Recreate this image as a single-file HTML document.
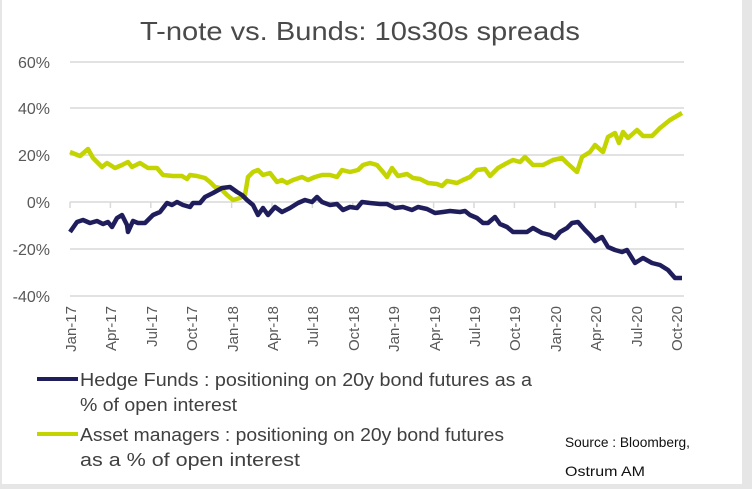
<!DOCTYPE html>
<html><head><meta charset="utf-8"><style>
html,body{margin:0;padding:0;background:#fff;}
svg{display:block;}
</style></head><body>
<svg width="752" height="489" viewBox="0 0 752 489" xmlns="http://www.w3.org/2000/svg" font-family="'Liberation Sans', sans-serif">
<rect width="752" height="489" fill="#fff"/>
<rect x="742" y="0" width="10" height="489" fill="#e6e6e6"/>
<rect x="0" y="484" width="752" height="5" fill="#e6e6e6"/>
<rect x="0" y="0" width="2" height="489" fill="#e6e6e6"/>
<text x="360" y="40" text-anchor="middle" font-size="26" fill="#4a4a4a" textLength="440" lengthAdjust="spacingAndGlyphs">T-note vs. Bunds: 10s30s spreads</text>
<g stroke="#d9d9d9" stroke-width="1.5">
<line x1="70" y1="62" x2="684" y2="62"/>
<line x1="70" y1="108" x2="684" y2="108"/>
<line x1="70" y1="155" x2="684" y2="155"/>
<line x1="70" y1="249" x2="684" y2="249"/>
<line x1="70" y1="296" x2="684" y2="296"/>
<line x1="70" y1="202" x2="684" y2="202"/>
</g>
<g stroke="#d9d9d9" stroke-width="1.5">
<line x1="70" y1="202" x2="70" y2="208"/><line x1="110.4" y1="202" x2="110.4" y2="208"/><line x1="150.8" y1="202" x2="150.8" y2="208"/><line x1="191.2" y1="202" x2="191.2" y2="208"/><line x1="231.6" y1="202" x2="231.6" y2="208"/><line x1="272" y1="202" x2="272" y2="208"/><line x1="312.4" y1="202" x2="312.4" y2="208"/><line x1="352.8" y1="202" x2="352.8" y2="208"/><line x1="393.2" y1="202" x2="393.2" y2="208"/><line x1="433.6" y1="202" x2="433.6" y2="208"/><line x1="474" y1="202" x2="474" y2="208"/><line x1="514.4" y1="202" x2="514.4" y2="208"/><line x1="554.8" y1="202" x2="554.8" y2="208"/><line x1="595.2" y1="202" x2="595.2" y2="208"/><line x1="635.6" y1="202" x2="635.6" y2="208"/><line x1="676" y1="202" x2="676" y2="208"/>
</g>
<g font-size="16" fill="#595959" text-anchor="end">
<text x="50" y="68">60%</text><text x="50" y="114">40%</text><text x="50" y="161">20%</text><text x="50" y="208">0%</text><text x="50" y="255">-20%</text><text x="50" y="302">-40%</text>
</g>
<g font-size="15" fill="#595959" text-anchor="end">
<text transform="translate(76,306) rotate(-90)">Jan-17</text>
<text transform="translate(116,306) rotate(-90)">Apr-17</text>
<text transform="translate(157,306) rotate(-90)">Jul-17</text>
<text transform="translate(197,306) rotate(-90)">Oct-17</text>
<text transform="translate(238,306) rotate(-90)">Jan-18</text>
<text transform="translate(278,306) rotate(-90)">Apr-18</text>
<text transform="translate(318,306) rotate(-90)">Jul-18</text>
<text transform="translate(359,306) rotate(-90)">Oct-18</text>
<text transform="translate(399,306) rotate(-90)">Jan-19</text>
<text transform="translate(440,306) rotate(-90)">Apr-19</text>
<text transform="translate(480,306) rotate(-90)">Jul-19</text>
<text transform="translate(520,306) rotate(-90)">Oct-19</text>
<text transform="translate(561,306) rotate(-90)">Jan-20</text>
<text transform="translate(601,306) rotate(-90)">Apr-20</text>
<text transform="translate(642,306) rotate(-90)">Jul-20</text>
<text transform="translate(682,306) rotate(-90)">Oct-20</text>
</g>
<polyline fill="none" stroke="#c3d400" stroke-width="4.5" stroke-linejoin="round" points="70,152 80,156 88,149 93,158 102,167 107,163 115,168 122,165 128,162 132,167 140,163 148,168 157,168 163,175 173,176 182,176 187,179 190,175 197,176 205,178 210,182 215,187 220,188 227,195 233,200 240,198 245,195 248,177 253,172 258,170 263,175 270,173 277,182 282,180 287,183 293,180 302,177 308,180 315,177 322,175 330,175 337,177 342,170 350,172 358,170 363,165 370,163 377,165 383,172 387,177 392,168 398,176 407,174 413,178 420,179 428,183 437,184 442,186 447,181 457,183 463,180 470,177 477,170 485,169 490,176 498,168 507,163 513,160 520,162 525,157 533,165 543,165 553,160 562,158 567,163 577,172 582,157 590,152 595,145 603,152 608,137 615,133 619,143 623,132 628,138 637,130 643,136 652,136 660,128 670,120 682,113"/>
<polyline fill="none" stroke="#1f1d5c" stroke-width="4.5" stroke-linejoin="round" points="70,232 77,222 83,220 90,223 97,221 103,224 108,222 112,227 117,218 122,215 127,225 128,232 133,221 138,223 145,223 153,215 160,212 167,203 172,205 177,202 183,205 190,207 193,203 200,203 205,197 213,193 222,188 230,187 237,192 242,195 247,200 253,205 258,215 263,208 268,215 275,207 282,212 290,208 298,203 305,200 312,202 317,197 322,202 330,205 337,204 343,210 350,207 357,208 362,202 370,203 380,204 387,204 395,208 403,207 412,210 418,207 427,209 435,213 443,212 450,211 460,212 465,211 470,215 477,218 483,223 488,223 495,217 500,224 507,227 513,232 518,232 527,232 533,228 542,233 550,235 555,238 560,232 567,228 572,223 578,222 585,230 590,235 595,241 602,237 608,247 615,250 622,252 627,250 635,263 643,258 652,263 660,265 668,270 675,278 682,278"/>
<line x1="37" y1="379" x2="78" y2="379" stroke="#1f1d5c" stroke-width="4"/>
<line x1="37" y1="434" x2="78" y2="434" stroke="#c3d400" stroke-width="4"/>
<g font-size="18" fill="#404040">
<text x="80" y="386" textLength="452" lengthAdjust="spacingAndGlyphs">Hedge Funds : positioning on 20y bond futures as a</text>
<text x="80" y="411" textLength="157" lengthAdjust="spacingAndGlyphs">% of open interest</text>
<text x="80" y="441" textLength="424" lengthAdjust="spacingAndGlyphs">Asset managers : positioning on 20y bond futures</text>
<text x="80" y="466" textLength="220" lengthAdjust="spacingAndGlyphs">as a % of open interest</text>
</g>
<g font-size="14" fill="#111">
<text x="565" y="447" textLength="125" lengthAdjust="spacingAndGlyphs">Source : Bloomberg,</text>
<text x="565" y="476" textLength="80" lengthAdjust="spacingAndGlyphs">Ostrum AM</text>
</g>
</svg>
</body></html>
